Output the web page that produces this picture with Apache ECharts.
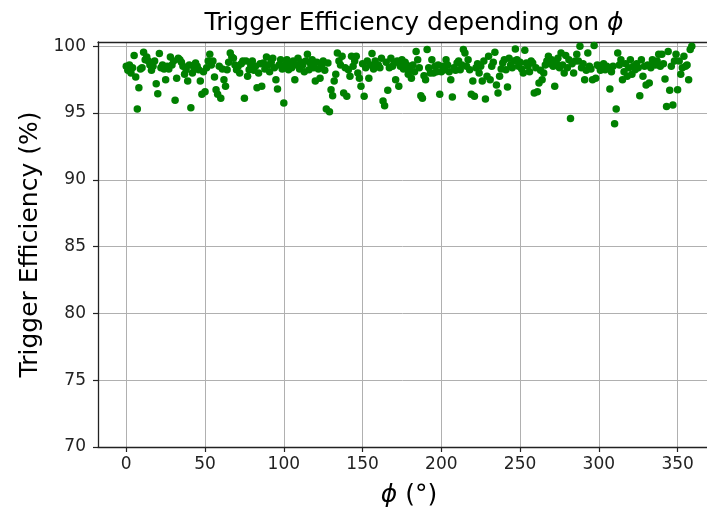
<!DOCTYPE html>
<html>
<head>
<meta charset="utf-8">
<script src="https://cdn.jsdelivr.net/npm/echarts@6/dist/echarts.min.js"></script>
<style>
  html, body { margin: 0; padding: 0; background: #fff; }
  #chart { width: 707px; height: 515px; }
</style>
</head>
<body>
<div id="chart"></div>
<script>
// phi in degrees, one measurement per degree
const phiDeg = Array.from({ length: 360 }, (_, i) => i)

// trigger efficiency (%), 10 per row
const efficiency = [
  98.5, 98.2, 98.6, 98.0, 98.4, 99.3, 97.7, 95.3, 96.9, 98.3,
  98.4, 99.55, 99.0, 99.2, 98.9, 98.6, 98.2, 98.5, 98.9, 97.2,
  96.45, 99.45, 98.4, 98.6, 98.3, 97.5, 98.5, 98.3, 99.2, 98.6,
  98.9, 95.95, 97.6, 99.1, 99.0, 98.8, 98.5, 97.9, 98.25, 97.4,
  98.6, 95.4, 98.0, 98.4, 98.75, 98.5, 98.25, 97.4, 96.4, 98.1,
  96.6, 98.4, 98.9, 99.4, 98.6, 98.9, 97.7, 96.75, 96.4, 98.5,
  96.1, 98.3, 97.5, 97.0, 98.25, 98.8, 99.5, 99.2, 99.1, 98.6,
  98.25, 98.5, 98.0, 98.7, 98.9, 96.1, 98.9, 97.75, 98.25, 98.6,
  98.9, 98.2, 98.5, 96.9, 98.0, 98.7, 97.0, 98.75, 98.3, 99.2,
  98.6, 98.1, 98.8, 99.1, 98.4, 97.5, 96.8, 98.6, 99.0, 98.3,
  95.75, 98.6, 99.0, 98.25, 98.7, 98.4, 98.9, 97.5, 98.6, 99.1,
  98.3, 98.8, 98.6, 98.1, 98.9, 99.4, 98.25, 98.7, 99.0, 98.4,
  97.4, 98.8, 98.3, 97.6, 98.5, 98.9, 98.2, 95.3, 98.75, 95.1,
  96.75, 96.3, 97.4, 97.9, 99.5, 98.9, 98.6, 99.25, 96.5, 98.4,
  96.25, 98.25, 97.75, 99.25, 98.5, 98.9, 99.25, 98.0, 97.6, 97.0,
  98.7, 96.25, 98.4, 98.9, 97.6, 98.6, 99.45, 98.3, 98.9, 98.5,
  98.6, 98.4, 99.1, 95.9, 95.55, 98.8, 96.7, 98.4, 99.1, 98.5,
  98.75, 97.5, 98.9, 97.0, 98.5, 99.0, 98.3, 98.8, 98.6, 97.9,
  98.3, 97.6, 98.6, 98.1, 99.6, 99.0, 98.4, 96.3, 96.1, 97.8,
  97.5, 99.75, 98.4, 98.0, 99.0, 98.0, 98.5, 98.1, 98.6, 96.4,
  98.1, 98.5, 98.25, 99.0, 98.6, 98.1, 97.5, 96.2, 98.4, 98.2,
  98.75, 98.9, 98.25, 98.6, 99.75, 99.5, 98.5, 99.0, 98.25, 96.4,
  97.4, 96.25, 98.4, 98.7, 98.0, 98.5, 97.4, 98.9, 96.05, 97.75,
  99.25, 97.5, 98.5, 98.8, 99.55, 97.1, 96.5, 97.75, 98.3, 98.75,
  99.0, 98.25, 96.95, 99.1, 98.6, 98.4, 98.9, 99.8, 99.0, 98.5,
  98.8, 98.3, 98.0, 99.7, 98.75, 98.5, 98.1, 98.9, 98.75, 96.5,
  98.4, 96.6, 97.25, 98.2, 97.5, 98.0, 98.6, 98.9, 99.25, 98.7,
  99.0, 98.5, 97.0, 98.75, 99.1, 98.4, 99.5, 98.6, 98.0, 99.3,
  98.4, 99.0, 94.6, 98.7, 98.0, 98.9, 99.4, 98.9, 100.0, 98.4,
  98.7, 97.5, 98.2, 99.5, 98.5, 98.3, 97.5, 100.05, 97.6, 98.6,
  98.5, 98.2, 98.4, 98.7, 98.25, 98.5, 98.4, 96.8, 98.1, 98.5,
  94.2, 95.3, 99.5, 98.6, 99.0, 97.5, 98.1, 98.7, 97.75, 98.4,
  99.0, 97.9, 98.5, 98.25, 98.7, 98.4, 96.3, 99.0, 97.75, 98.5,
  97.1, 98.6, 97.25, 98.4, 99.0, 98.7, 98.6, 98.9, 99.4, 98.5,
  99.4, 98.7, 97.55, 95.5, 99.6, 96.7, 98.5, 95.6, 98.9, 99.4,
  96.75, 98.9, 97.9, 98.4, 99.25, 98.5, 98.6, 97.5, 99.75, 100.0
]

const font = 'DejaVu Sans'
const xMin = -17.95
const xMax = 368.66

const chart = echarts.init(document.getElementById('chart'), null, { renderer: 'canvas' })

chart.setOption({
    animation: false,
    backgroundColor: '#fff',
    title: {
        text: '{a|Trigger Efficiency depending on }{b|ϕ}',
        left: 409,
        textAlign: 'center',
        top: 6,
        textStyle: {
            fontWeight: 'normal',
            rich: {
                a: { fontFamily: font, fontSize: 25, fontWeight: 'normal', color: '#000' },
                b: { fontFamily: font, fontSize: 25, fontWeight: 'normal', color: '#000', fontStyle: 'italic' },
            },
        },
    },
    grid: {
        left: 98,
        top: 42,
        bottom: 68,
        right: 0,
    },
    xAxis: [
        {
            type: 'value',
            min: xMin,
            max: xMax,
            splitNumber: 8,
            name: '{b|ϕ}{a| (°)}',
            nameLocation: 'middle',
            nameGap: 36,
            nameTextStyle: {
                padding: [0, 0, 0, 13],
                rich: {
                    a: { fontFamily: font, fontSize: 25, color: '#000' },
                    b: { fontFamily: font, fontSize: 25, color: '#000', fontStyle: 'italic' },
                },
            },
            axisLine: { show: true, onZero: false, lineStyle: { color: '#222', width: 1.3 } },
            axisTick: { show: true, inside: false, length: 5, lineStyle: { color: '#222', width: 1.2 } },
            axisLabel: {
                showMinLabel: false,
                showMaxLabel: false,
                margin: 9,
                fontFamily: font,
                fontSize: 17,
                color: '#222',
            },
            splitLine: { show: true, lineStyle: { color: '#b0b0b0', width: 1 } },
        },
        {
            // top spine only
            type: 'value',
            position: 'top',
            min: xMin,
            max: xMax,
            axisLine: { show: true, onZero: false, lineStyle: { color: '#222', width: 1.3 } },
            axisTick: { show: false },
            axisLabel: { show: false },
            splitLine: { show: false },
        },
    ],
    yAxis: {
        type: 'value',
        min: 70,
        max: 100.32,
        interval: 5,
        name: 'Trigger Efficiency (%)',
        nameLocation: 'middle',
        nameGap: 54,
        nameTextStyle: { fontFamily: font, fontSize: 25, color: '#000' },
        axisLine: { show: true, onZero: false, lineStyle: { color: '#222', width: 1.3 } },
        axisTick: { show: true, inside: false, length: 5, lineStyle: { color: '#222', width: 1.2 } },
        axisLabel: {
            showMaxLabel: false,
            margin: 12,
            fontFamily: font,
            fontSize: 17,
            color: '#222',
        },
        splitLine: { show: true, lineStyle: { color: '#b0b0b0', width: 1 } },
    },
    series: [
        {
            type: 'scatter',
            xAxisIndex: 0,
            data: phiDeg.map((p, i) => [p, efficiency[i]]),
            symbol: 'circle',
            symbolSize: 7.5,
            itemStyle: { color: '#008000', opacity: 1 },
            clip: false,
        },
    ],
})
</script>
</body>
</html>
